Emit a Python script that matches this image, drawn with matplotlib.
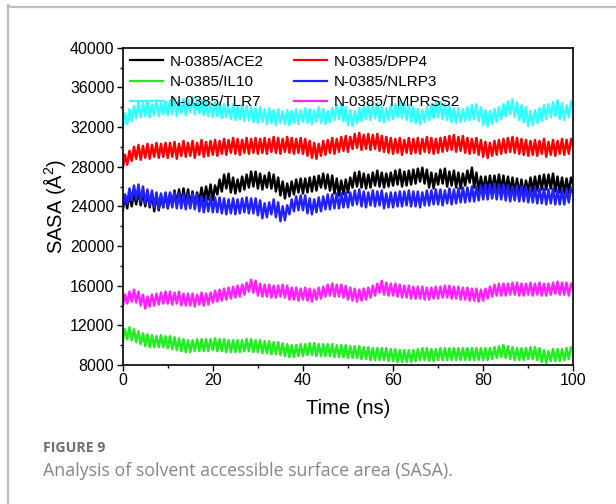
import matplotlib
matplotlib.use('Agg')
import matplotlib.pyplot as plt
import numpy as np
from matplotlib.patches import FancyBboxPatch
from matplotlib.ticker import MultipleLocator

plt.rcParams['font.family'] = ['Liberation Sans', 'DejaVu Sans']
plt.rcParams['mathtext.fontset'] = 'custom'
plt.rcParams['mathtext.rm'] = 'Liberation Sans'
plt.rcParams['mathtext.default'] = 'regular'

# SASA every 0.5 ns, in units of 100 A^2
ace2 = [236,251,238,253,240,254,242,256,241,255,240,254,239,253,235,252,236,251,239,253,
        238,253,241,256,242,257,243,258,242,257,241,255,240,254,244,259,245,260,247,262,
        246,261,252,267,255,272,258,273,254,269,253,267,255,270,257,272,259,275,260,275,
        258,273,257,271,259,274,258,272,255,269,251,265,248,263,250,265,252,267,254,268,
        253,268,254,269,255,270,256,271,259,273,258,272,256,271,253,268,251,266,252,267,
        254,269,259,274,260,275,259,273,258,272,259,274,261,276,260,274,259,273,260,274,
        261,276,262,277,260,275,261,276,262,277,263,278,265,279,263,277,259,274,258,273,
        262,277,263,278,260,275,261,276,259,274,258,273,261,276,264,279,259,274,255,270,
        255,270,256,271,256,271,257,272,256,271,255,270,254,269,253,268,252,267,251,266,
        254,269,255,270,256,271,257,272,257,272,258,273,255,270,254,269,253,268,254,269,
        262]
dpp4 = [278,292,282,296,286,300,288,302,287,301,289,303,288,302,290,304,289,303,290,304,
        289,304,290,305,288,303,291,306,290,304,291,306,289,304,292,307,290,305,291,306,
        292,307,291,306,293,308,292,307,294,309,293,308,292,307,294,309,293,308,294,309,
        293,308,294,309,293,308,295,310,294,309,293,308,295,310,294,309,293,308,294,309,
        293,308,291,306,289,304,288,303,291,306,292,307,294,309,293,308,295,310,296,311,
        295,310,298,313,299,314,297,312,298,313,297,312,298,313,296,311,295,310,294,309,
        293,308,294,309,292,307,294,309,293,308,294,309,293,308,295,310,294,309,293,308,
        294,309,295,310,296,311,297,312,295,310,296,311,294,309,293,308,294,309,292,307,
        290,305,289,304,291,306,292,307,293,308,294,309,295,310,294,309,293,308,292,307,
        291,306,292,307,291,306,293,308,290,305,292,307,291,306,293,308,292,307,293,308,
        300]
il10 = [104,116,106,118,105,116,103,114,101,112,99,111,98,110,98,109,98,110,98,109,
        97,109,96,108,95,107,94,106,93,105,93,105,94,106,94,106,94,106,94,106,
        95,107,94,106,94,106,93,105,93,105,93,105,93,105,94,106,94,106,93,105,
        93,105,92,104,92,104,91,103,91,103,90,102,89,101,88,100,88,100,89,101,
        89,101,90,102,90,102,89,101,89,101,89,101,89,101,88,100,88,100,88,100,
        87,99,87,99,87,99,86,98,86,98,85,97,85,97,85,97,85,97,84,96,
        84,96,83,95,83,95,83,95,83,95,84,96,85,97,85,97,84,96,84,96,
        85,97,85,97,85,97,85,97,85,97,85,97,85,97,85,97,85,97,85,97,
        85,97,85,97,86,98,87,99,88,100,87,99,86,98,85,97,85,97,85,97,
        86,98,86,98,85,97,83,95,82,94,84,96,84,96,84,96,85,97,86,98,
        94]
nlrp3 = [237,252,243,258,246,261,247,262,245,260,243,257,241,256,239,254,238,253,239,254,
         239,254,239,254,238,253,238,252,237,252,238,253,237,252,235,250,234,249,235,250,
         234,249,234,249,233,248,232,247,233,248,232,247,233,248,234,249,233,248,233,248,
         231,246,228,243,229,244,232,247,229,244,225,240,226,241,232,247,235,250,236,251,
         236,251,233,248,232,247,234,249,235,250,237,252,237,252,238,253,238,253,239,254,
         239,254,241,256,242,257,240,255,239,254,241,256,240,255,241,256,238,253,239,254,
         239,254,240,255,240,255,241,256,240,255,240,255,239,254,241,256,241,256,242,257,
         242,257,241,256,243,258,242,257,243,258,244,259,244,259,245,260,245,260,246,261,
         247,262,247,262,248,263,247,262,247,262,246,261,245,260,246,261,245,260,245,260,
         244,259,244,259,243,258,243,258,242,257,243,258,242,257,242,257,242,257,244,259,
         253]
tlr7 = [319,334,323,338,326,341,329,345,330,344,331,346,330,343,332,347,331,344,333,346,
        332,347,333,349,331,346,334,348,332,347,335,350,333,348,334,347,332,346,331,345,
        330,345,331,344,329,343,330,342,328,343,327,341,328,342,326,341,327,340,325,339,
        324,340,325,338,323,339,324,337,322,338,324,336,323,337,322,336,324,338,323,337,
        325,339,324,338,323,337,325,340,324,338,323,336,325,339,327,342,328,343,326,340,
        322,337,321,336,324,339,326,341,328,343,327,342,329,344,326,340,325,339,327,342,
        328,343,330,345,329,344,327,342,325,340,324,338,323,337,325,340,327,342,329,344,
        330,345,328,343,327,341,325,339,324,339,325,338,326,340,327,342,328,343,326,340,
        322,337,321,336,323,338,325,340,328,343,331,346,333,348,330,345,327,342,325,340,
        321,336,322,337,324,339,326,342,328,343,330,345,331,347,328,344,327,342,330,346,
        337]
tmprss2 = [139,151,142,154,144,156,143,154,140,151,137,149,139,151,140,152,141,153,142,154,
           142,154,141,153,142,154,140,152,140,152,140,152,139,151,141,153,140,152,141,153,
           143,155,144,156,145,157,146,158,147,159,148,160,149,161,151,163,154,166,153,165,
           150,162,149,161,149,161,148,160,148,160,149,161,148,160,146,158,146,158,145,157,
           146,158,145,157,144,156,146,158,147,159,149,161,150,162,149,161,149,161,148,160,
           146,158,145,157,144,156,145,157,146,158,148,160,150,162,153,165,151,163,150,162,
           150,162,149,161,148,160,148,160,147,159,147,159,147,159,146,158,146,158,147,159,
           147,159,148,160,148,160,147,159,147,159,146,158,146,158,145,157,145,157,144,156,
           145,157,147,159,149,161,150,162,150,162,150,162,151,163,151,163,150,162,150,162,
           151,163,150,162,151,163,150,162,150,162,151,163,152,164,151,163,151,163,150,162,
           156]

series = [('N-0385/ACE2', ace2, '#000000'),
          ('N-0385/DPP4', dpp4, '#ff0000'),
          ('N-0385/IL10', il10, '#22ee22'),
          ('N-0385/NLRP3', nlrp3, '#2222ff'),
          ('N-0385/TLR7', tlr7, '#33ffff'),
          ('N-0385/TMPRSS2', tmprss2, '#ff22ff')]

time = np.arange(len(ace2)) * 0.5

fig = plt.figure(figsize=(6.16, 5.04), dpi=100)
fig.patch.set_facecolor('white')

# grey card border (top and left edges visible)
card = FancyBboxPatch((8 / 616, 1 - 7 / 504), 1.2, -1.2, boxstyle='round,pad=0,rounding_size=0.006',
                      transform=fig.transFigure, facecolor='none', edgecolor='#bdbdbd', lw=1.6)
fig.patches.append(card)

ax = fig.add_axes([122.7 / 616, 1 - 365 / 504, (573.3 - 122.7) / 616, (365 - 47.7) / 504])
lines = []
for name, vals, col in series:
    ln, = ax.plot(time, np.array(vals) * 100, color=col, lw=1.8, label=name)
    lines.append(ln)

ax.set_xlim(0, 100)
ax.set_ylim(8000, 40000)
ax.set_xticks(np.arange(0, 101, 20))
ax.set_yticks(np.arange(8000, 40001, 4000))
ax.xaxis.set_minor_locator(MultipleLocator(10))
ax.yaxis.set_minor_locator(MultipleLocator(2000))
ax.tick_params(which='major', direction='out', length=4, width=1, labelsize=11.5, pad=2)
ax.tick_params(which='minor', direction='out', length=2.5, width=1)
for s in ax.spines.values():
    s.set_linewidth(1.2)

ax.set_xlabel('Time (ns)', fontsize=14.5, labelpad=8)
ax.set_ylabel('SASA (Å$^2$)', fontsize=14.5, labelpad=1)

# row-major legend order like the original
order = [0, 2, 4, 1, 3, 5]
leg = ax.legend([lines[i] for i in order], [series[i][0] for i in order],
                loc='upper left', ncol=2, frameon=False, fontsize=11, handlelength=2.2,
                handletextpad=0.4, labelspacing=0.42, columnspacing=2.0,
                borderaxespad=0.2, borderpad=0.25)
for h in leg.get_lines():
    h.set_linewidth(1.6)

fig.text(43 / 616, 1 - 448 / 504, 'FIGURE 9', fontsize=10.2, fontweight='bold',
         color='#6e6e6e', family=['Open Sans', 'DejaVu Sans'], va='center')
fig.text(43 / 616, 1 - 471 / 504, 'Analysis of solvent accessible surface area (SASA).',
         fontsize=12.8, color='#858585', family=['Open Sans', 'DejaVu Sans'], va='center')

fig.savefig('out.png', dpi=100)
